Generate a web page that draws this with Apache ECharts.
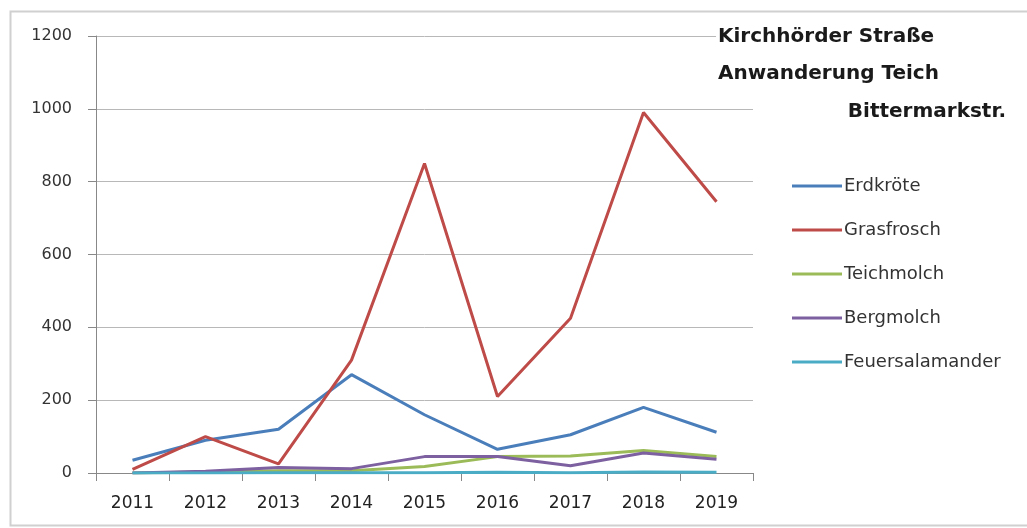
<!DOCTYPE html>
<html>
<head>
<meta charset="utf-8">
<script src="https://cdn.jsdelivr.net/npm/echarts@6/dist/echarts.min.js"></script>
<style>
	html,body{margin:0;padding:0;background:#fff;}
	#chart{width:1027px;height:528px;}
</style>
</head>
<body>
<div id="chart"></div>
<script>
	// Jahre (x-Achse)
	var years = ["2011","2012","2013","2014","2015","2016","2017","2018","2019"];
	var seriesNames = ["Erdkröte","Grasfrosch","Teichmolch","Bergmolch","Feuersalamander"];
	// Werte
	var erdkroete = [35, 90, 120, 270, 160, 65, 105, 180, 112];
	var grasfrosch = [10, 100, 25, 310, 850, 210, 425, 990, 745];
	var teichmolch = [0, 3, 6, 6, 18, 45, 47, 62, 45];
	var bergmolch = [0, 5, 15, 12, 45, 45, 20, 55, 38];
	var feuersalamander = [0, 0, 1, 1, 1, 2, 1, 3, 2];
	var yTicks = [0, 200, 400, 600, 800, 1000, 1200];
	var colors = ["#4a7ebb","#be4b48","#9bbb59","#7d60a0","#4bacc6"];

	var fontFam = "'DejaVu Sans', sans-serif";
	var allData = [erdkroete, grasfrosch, teichmolch, bergmolch, feuersalamander];

	var chart = echarts.init(document.getElementById("chart"));
	var series = [];
	for (var i = 0; i < seriesNames.length; i++) {
		series.push({
			name: seriesNames[i],
			type: "line",
			data: allData[i],
			symbol: "none",
			smooth: false,
			lineStyle: { width: 3, color: colors[i] },
			itemStyle: { color: colors[i] },
			z: 2 + i
		});
	}

	var option = {
		animation: false,
		backgroundColor: "#fff",
		title: [{
			text: "Kirchhörder Straße\nAnwanderung Teich",
			left: 716,
			top: 18,
			padding: [0, 4, 0, 2],
			backgroundColor: "#fff",
			textStyle: { fontFamily: fontFam, fontWeight: "bold", fontSize: 20, color: "#1a1a1a", lineHeight: 37 }
		}, {
			text: "Bittermarkstr.",
			right: 16,
			top: 97,
			textStyle: { fontFamily: fontFam, fontWeight: "bold", fontSize: 20, color: "#1a1a1a" }
		}],
		graphic: [{
			type: "rect",
			left: 8,
			top: 9,
			shape: { width: 1040, height: 514 },
			style: { fill: "none", stroke: "#d0d0d0", lineWidth: 2 },
			silent: true
		}],
		legend: {
			orient: "vertical",
			left: 787,
			top: 172,
			icon: "rect",
			itemWidth: 50,
			itemHeight: 3,
			itemGap: 26,
			data: seriesNames,
			textStyle: { fontFamily: fontFam, fontSize: 18, color: "#333", padding: [0, 0, 0, -3] }
		},
		grid: { left: 96, right: 274, top: 36, bottom: 55, containLabel: false },
		xAxis: {
			type: "category",
			data: years,
			boundaryGap: true,
			axisLine: { show: true, lineStyle: { color: "#888", width: 1 } },
			axisTick: { show: true, length: 8, interval: 0, lineStyle: { color: "#888" } },
			axisLabel: { margin: 22, fontFamily: fontFam, fontSize: 17, color: "#222", interval: 0 }
		},
		yAxis: {
			type: "value",
			min: yTicks[0],
			max: yTicks[yTicks.length - 1],
			interval: 200,
			axisLine: { show: true, lineStyle: { color: "#888", width: 1 } },
			axisTick: { show: true, length: 8, lineStyle: { color: "#888" } },
			axisLabel: { margin: 24, fontFamily: fontFam, fontSize: 16, color: "#333", formatter: function (v) { return String(v); } },
			splitLine: { show: true, lineStyle: { color: "#b8b8b8", width: 1 } }
		},
		series: series
	};
	chart.setOption(option);
</script>
</body>
</html>
